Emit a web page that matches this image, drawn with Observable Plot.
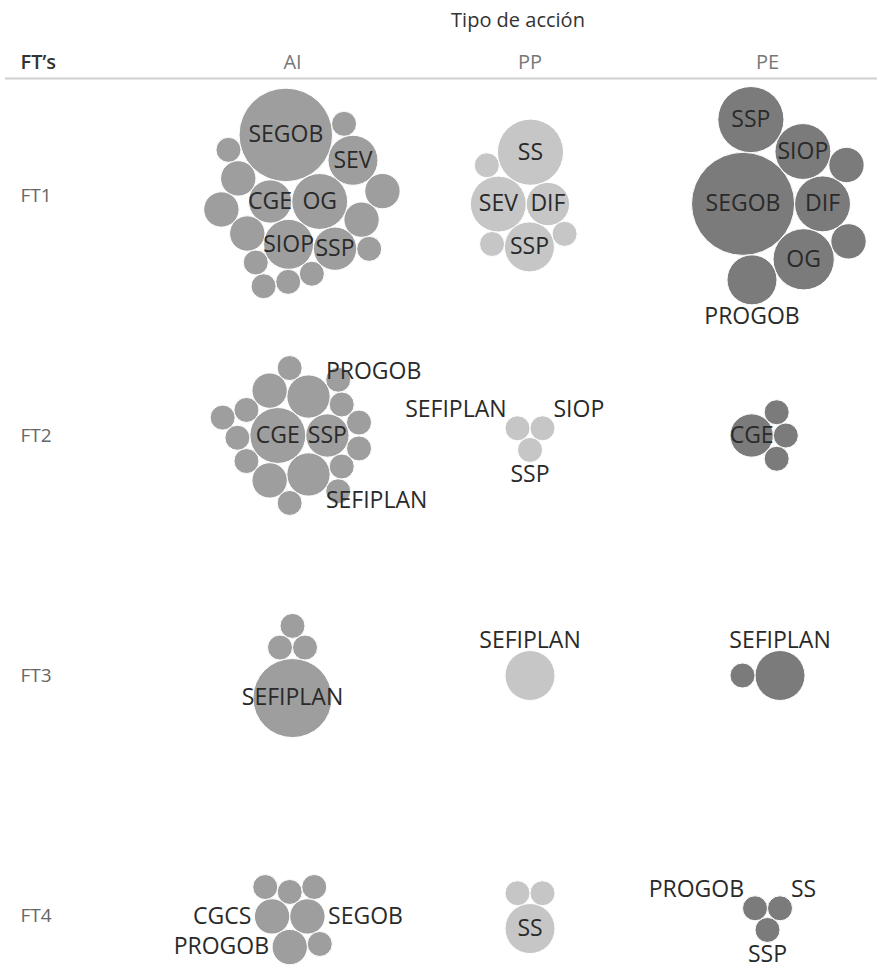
<!DOCTYPE html>
<html><head><meta charset="utf-8">
<script src="https://cdn.jsdelivr.net/npm/d3@7"></script>
<script src="https://cdn.jsdelivr.net/npm/@observablehq/plot@0.6"></script>
<style>body{margin:0;background:#fff;}</style>
</head><body><div id="chart"></div>
<script>
// ---- data ----
const tipos = ["AI", "PP", "PE"];
const fts = ["FT1", "FT2", "FT3", "FT4"];
const headerTitle = "Tipo de acción";
const rowTitle = "FT’s";

// bubble sizes per cell (pack order) and their labels (null = no label shown)
const AI_FT1 = [3, 5, 4, 14, 3, 4, 2, 2, 2, 2, 2, 1, 1, 1, 1, 1, 1, 1];
const AI_FT1_labels = ["CGE", "OG", "SIOP", "SEGOB", "SSP", "SEV"];
const PP_FT1 = [5, 3, 4, 7, 1, 1, 1];
const PP_FT1_labels = ["SEV", "DIF", "SSP", "SS"];
const PE_FT1 = [17, 5, 6, 5, 7, 4, 2, 2];
const PE_FT1_labels = ["SEGOB", "DIF", "OG", "SIOP", "SSP", "PROGOB"];

const AI_FT2 = [5, 3, 3, 3, 2, 2, 1, 1, 1, 1, 1, 1, 1, 1, 1, 1, 1, 1];
const AI_FT2_labels = ["CGE", "SSP", "SEFIPLAN", "PROGOB"];
const PP_FT2 = [1, 1, 1];
const PP_FT2_labels = ["SEFIPLAN", "SIOP", "SSP"];
const PE_FT2 = [3, 1, 1, 1];
const PE_FT2_labels = ["CGE"];

const AI_FT3 = [1, 1, 10, 1];
const AI_FT3_labels = [null, null, "SEFIPLAN"];
const PP_FT3 = [4];
const PP_FT3_labels = ["SEFIPLAN"];
const PE_FT3 = [1, 4];
const PE_FT3_labels = [null, "SEFIPLAN"];

const AI_FT4 = [2, 2, 2, 1, 1, 1, 1];
const AI_FT4_labels = ["CGCS", "SEGOB", "PROGOB"];
const PP_FT4 = [1, 1, 4];
const PP_FT4_labels = [null, null, "SS"];
const PE_FT4 = [1, 1, 1];
const PE_FT4_labels = ["PROGOB", "SS", "SSP"];

const palette = ["#9e9e9e", "#c6c6c6", "#7b7b7b"];

// ---- layout ----
const W = 877, H = 974;
const FONT = '"Open Sans", "Noto Sans", sans-serif';
const LABEL_SIZE = 23;
const R1 = 12.5;
const radius = d3.scaleSqrt().domain([0, 1]).range([0, R1]);
const colX = d3.scalePoint().domain(tipos).range([292, 767]);
const rowY = d3.scalePoint().domain(fts).range([195, 915]);

const cellList = [
  ["AI","FT1",AI_FT1,AI_FT1_labels],["PP","FT1",PP_FT1,PP_FT1_labels],["PE","FT1",PE_FT1,PE_FT1_labels],
  ["AI","FT2",AI_FT2,AI_FT2_labels],["PP","FT2",PP_FT2,PP_FT2_labels],["PE","FT2",PE_FT2,PE_FT2_labels],
  ["AI","FT3",AI_FT3,AI_FT3_labels],["PP","FT3",PP_FT3,PP_FT3_labels],["PE","FT3",PE_FT3,PE_FT3_labels],
  ["AI","FT4",AI_FT4,AI_FT4_labels],["PP","FT4",PP_FT4,PP_FT4_labels],["PE","FT4",PE_FT4,PE_FT4_labels]
];

const bubbles = [];
for (const [tipo, ft, values, labels] of cellList) {
  const circles = values.map((v, i) => ({value: v, r: radius(v), label: labels[i] ?? null, tipo, ft}));
  d3.packSiblings(circles);
  const ox = colX(tipo), oy = rowY(ft);
  for (const c of circles) { c.px = ox + c.x; c.py = oy + c.y; bubbles.push(c); }
}

// ---- label placement ----
const canvas = document.createElement("canvas");
const ctx = canvas.getContext("2d");
ctx.font = `${LABEL_SIZE}px "Open Sans"`;
const tw = s => ctx.measureText(s).width;
const capH = LABEL_SIZE * 0.72;
const gap = 3;

function rectHitsCircle(rc, c) {
  const nx = Math.max(rc.x0, Math.min(c.px, rc.x1));
  const ny = Math.max(rc.y0, Math.min(c.py, rc.y1));
  return (nx - c.px) ** 2 + (ny - c.py) ** 2 < (c.r - 1) ** 2;
}
function rectHitsRect(a, b) {
  return a.x0 < b.x1 && b.x0 < a.x1 && a.y0 < b.y1 && b.y0 < a.y1;
}
function rectOf(ax, ay, w, ta, la) {
  const x0 = ta === "start" ? ax : ta === "end" ? ax - w : ax - w / 2;
  const y0 = la === "top" ? ay : la === "bottom" ? ay - capH : ay - capH / 2;
  return {x0, x1: x0 + w, y0, y1: y0 + capH};
}
const placed = [];
const labelsOut = [];
const insideSet = new Set();
for (const c of bubbles) {
  if (!c.label) continue;
  const w = tw(c.label);
  if (c.r >= 15 && w <= 2 * c.r * 1.3) {
    insideSet.add(c);
    labelsOut.push({...c, lx: c.px, ly: c.py, ta: "middle", la: "middle"});
    placed.push(rectOf(c.px, c.py, w, "middle", "middle"));
  }
}
const s2 = Math.SQRT1_2;
const dirs = [
  {d: [0, -1], ta: "middle", la: "bottom"},
  {d: [0, 1], ta: "middle", la: "top"},
  {d: [1, 0], ta: "start", la: "middle"},
  {d: [-1, 0], ta: "end", la: "middle"},
  {d: [s2, -s2], ta: "start", la: "bottom"},
  {d: [-s2, -s2], ta: "end", la: "bottom"},
  {d: [s2, s2], ta: "start", la: "top"},
  {d: [-s2, s2], ta: "end", la: "top"}
];
for (const c of bubbles) {
  if (!c.label || insideSet.has(c)) continue;
  const w = tw(c.label);
  const len = Math.hypot(c.x, c.y);
  const ux = len > 1 ? c.x / len : 0, uy = len > 1 ? c.y / len : -1;
  const cands = dirs.map(o => {
    const ax = c.px + o.d[0] * (c.r + gap), ay = c.py + o.d[1] * (c.r + gap);
    const rc = rectOf(ax, ay, w, o.ta, o.la);
    let bad = 0;
    if (rc.x0 < 2 || rc.x1 > W - 1 || rc.y0 < 85 || rc.y1 > H - 4) bad += 10;
    bad += bubbles.filter(b => rectHitsCircle(rc, b)).length;
    bad += 3 * placed.filter(p => rectHitsRect(rc, p)).length;
    const score = o.d[0] * ux + o.d[1] * uy;
    return {ax, ay, rc, ta: o.ta, la: o.la, bad, score};
  });
  cands.sort((a, b) => (a.bad - b.bad) || (b.score - a.score));
  const best = cands[0];
  placed.push(best.rc);
  labelsOut.push({...c, lx: best.ax, ly: best.ay, ta: best.ta, la: best.la});
}
const groups = d3.groups(labelsOut, l => l.ta + "|" + l.la);

const chart = Plot.plot({
  width: W, height: H, margin: 0,
  x: {type: "identity", axis: null}, y: {type: "identity", axis: null},
  r: {type: "sqrt", domain: [0, 1], range: [0, R1]},
  color: {type: "ordinal", domain: tipos, range: palette},
  style: {fontFamily: FONT, background: "#fff"},
  marks: [
    Plot.text([headerTitle], {x: () => colX("PP") - 12, frameAnchor: "top", dy: 20, lineAnchor: "middle", fontSize: 20, fill: "#333", text: d => d}),
    Plot.text([rowTitle], {frameAnchor: "top-left", dx: 20, dy: 62, lineAnchor: "middle", textAnchor: "start", fontSize: 20, fontWeight: 600, fill: "#333", text: d => d}),
    Plot.text(tipos, {x: d => colX(d), frameAnchor: "top", dy: 62, lineAnchor: "middle", fontSize: 20, fill: "#777", text: d => d}),
    Plot.ruleY([78], {x1: 5, x2: W, stroke: "#d0d0d0", strokeWidth: 2}),
    Plot.text(fts, {y: d => rowY(d), frameAnchor: "left", dx: 20, textAnchor: "start", fontSize: 19, fill: "#666", text: d => d}),
    Plot.dot(bubbles, {x: "px", y: "py", r: "value", fill: "tipo", stroke: "white", strokeWidth: 1}),
    ...groups.map(([key, arr]) => {
      const [ta, la] = key.split("|");
      return Plot.text(arr, {x: "lx", y: "ly", text: "label", textAnchor: ta, lineAnchor: la, fontSize: LABEL_SIZE, fill: "#2a2a2a"});
    })
  ]
});
document.getElementById("chart").appendChild(chart);
</script>
</body></html>
